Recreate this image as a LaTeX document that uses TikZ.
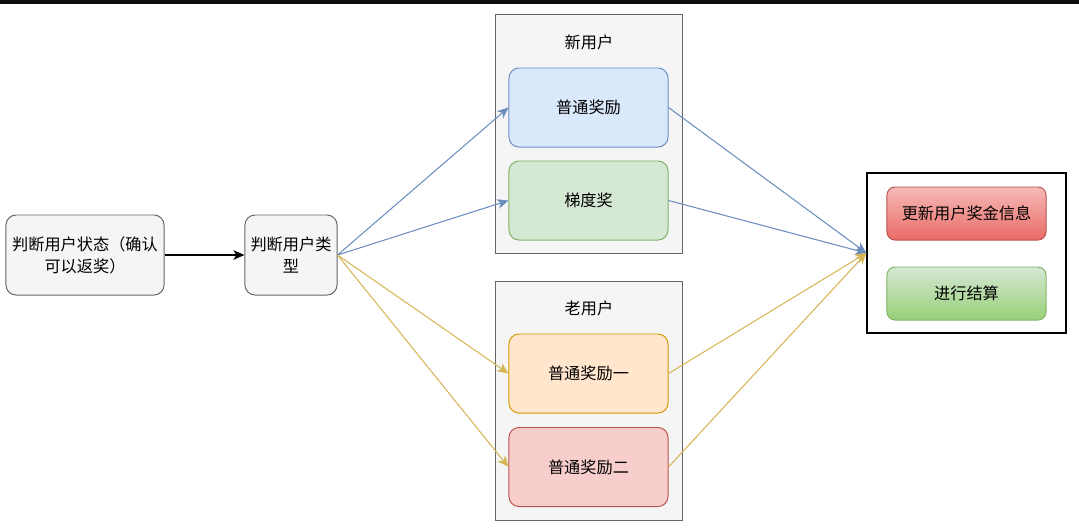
\documentclass[tikz,border=0pt]{standalone}
\usepackage{fontspec}
\usepackage{xcolor}
\usepackage{tikz}
\usetikzlibrary{arrows.meta}
\newfontfamily\cjk{Noto Sans CJK SC}
\definecolor{grayfill}{HTML}{F5F5F5}
\definecolor{grayline}{HTML}{666666}
\definecolor{bluefill}{HTML}{DAE8FC}
\definecolor{blueline}{HTML}{6C8EBF}
\definecolor{greenfill}{HTML}{D5E8D4}
\definecolor{greenline}{HTML}{82B366}
\definecolor{greendark}{HTML}{97D077}
\definecolor{orangefill}{HTML}{FFE6CC}
\definecolor{orangeline}{HTML}{D79B00}
\definecolor{redfill}{HTML}{F8CECC}
\definecolor{redline}{HTML}{B85450}
\definecolor{reddark}{HTML}{EA6B66}
\definecolor{yellowline}{HTML}{D6B656}
\tikzset{
  box/.style={draw, rounded corners=2.5mm, line width=0.7pt, align=center,
    font=\cjk\fontsize{11.5}{15.5}\selectfont, inner sep=2pt},
  prize/.style={box, minimum width=3.975cm, minimum height=1.975cm},
  group/.style={draw=grayline, fill=grayfill, line width=0.7pt,
    minimum width=4.65cm, minimum height=5.95cm},
  small/.style={box, rounded corners=2mm, minimum width=3.975cm, minimum height=1.325cm},
  link/.style={line width=0.75pt, arrows={-Stealth[length=2.8mm, width=2.4mm, inset=0.8mm]}},
}
\begin{document}
\begin{tikzpicture}[x=0.025cm, y=-0.025cm]
\useasboundingbox (0,0) rectangle (1079,529);
\fill[black!95] (0,0) rectangle (1079,3.5);
\node[box, fill=grayfill, draw=grayline, minimum width=3.95cm, minimum height=2cm] (stat) at (85,255) {判断用户状态（确认\\可以返奖）};
\node[box, fill=grayfill, draw=grayline, minimum width=2.3cm, minimum height=2cm] (type) at (291,255) {判断用户类\\型};
\node[group] (newgrp) at (589,134) {};
\node[font=\cjk\fontsize{11.5}{15.5}\selectfont] (newlbl) at (589,42) {新用户};
\node[prize, fill=bluefill, draw=blueline] (normal) at (588.5,107.5) {普通奖励};
\node[prize, fill=greenfill, draw=greenline] (grad) at (588.5,200.5) {梯度奖};
\node[group] (oldgrp) at (589,401) {};
\node[font=\cjk\fontsize{11.5}{15.5}\selectfont] (oldlbl) at (589,308) {老用户};
\node[prize, fill=orangefill, draw=orangeline] (old1) at (588.5,373.5) {普通奖励一};
\node[prize, fill=redfill, draw=redline] (old2) at (588.5,467) {普通奖励二};
\node[draw=black, fill=white, line width=0.8pt, minimum width=4.975cm, minimum height=4cm] (result) at (966.5,253) {};
\node[small, top color=redfill!80!reddark, bottom color=reddark, draw=redline] (update) at (966.5,213.5) {更新用户奖金信息};
\node[small, top color=greenfill, bottom color=greendark, draw=greenline] (settle) at (966.5,293.5) {进行结算};
\draw[link, black] (stat) -- (type);
\draw[link, blueline] (type.east) -- (normal.west);
\draw[link, blueline] (type.east) -- (grad.west);
\draw[link, yellowline] (type.east) -- (old1.west);
\draw[link, yellowline] (type.east) -- (old2.west);
\draw[link, blueline] (normal.east) -- (result.west);
\draw[link, blueline] (grad.east) -- (result.west);
\draw[link, yellowline] (old1.east) -- (result.west);
\draw[link, yellowline] (old2.east) -- (result.west);
\end{tikzpicture}
\end{document}
